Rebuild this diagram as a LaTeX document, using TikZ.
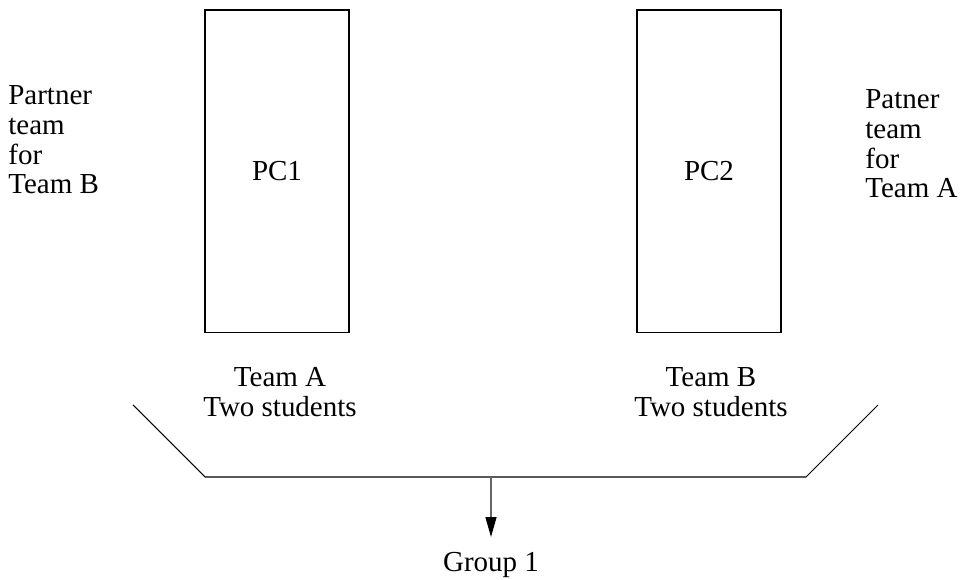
\documentclass[tikz,border=0pt]{standalone}
\usepackage{fontspec}
\setmainfont{Liberation Serif}
\usetikzlibrary{arrows.meta}

\begin{document}
\begin{tikzpicture}[x=0.02cm,y=-0.02cm,
  every node/.style={font=\fontsize{16.5}{17}\selectfont, inner sep=0pt},
  pcbox/.style={draw, line width=0.6pt, minimum width=2.88cm, minimum height=6.46cm},
  side/.style={align=left, anchor=north west},
  flow/.style={draw=black!60, line width=0.8pt,
    -{Triangle[length=0.4cm, width=0.22cm, color=black]}}]
  \useasboundingbox (0,0) rectangle (961,580);
  % the two machines
  \node[pcbox] (pc1) at (277,171.5) {PC1};
  \node[pcbox] (pc2) at (709,171.5) {PC2};
  % partner notes
  \node[side] (partB) at (8,85) {Partner\\team\\for\\Team B};
  \node[side] (partA) at (865,89) {Patner\\team\\for\\Team A};
  % teams
  \node[align=center] (teamA) at (280,392) {Team A\\Two students};
  \node[align=center] (teamB) at (711,392) {Team B\\Two students};
  % group bracket
  \coordinate (mid) at (491,477);
  \coordinate (tip) at (491,537);
  \draw[line width=0.6pt] (133,405) -- (205,477) -- (mid) -- (806,477) -- (878,405);
  \node (grp) at (491,565) {Group 1};
  \draw[flow] (mid) -- (tip);
\end{tikzpicture}
\end{document}
